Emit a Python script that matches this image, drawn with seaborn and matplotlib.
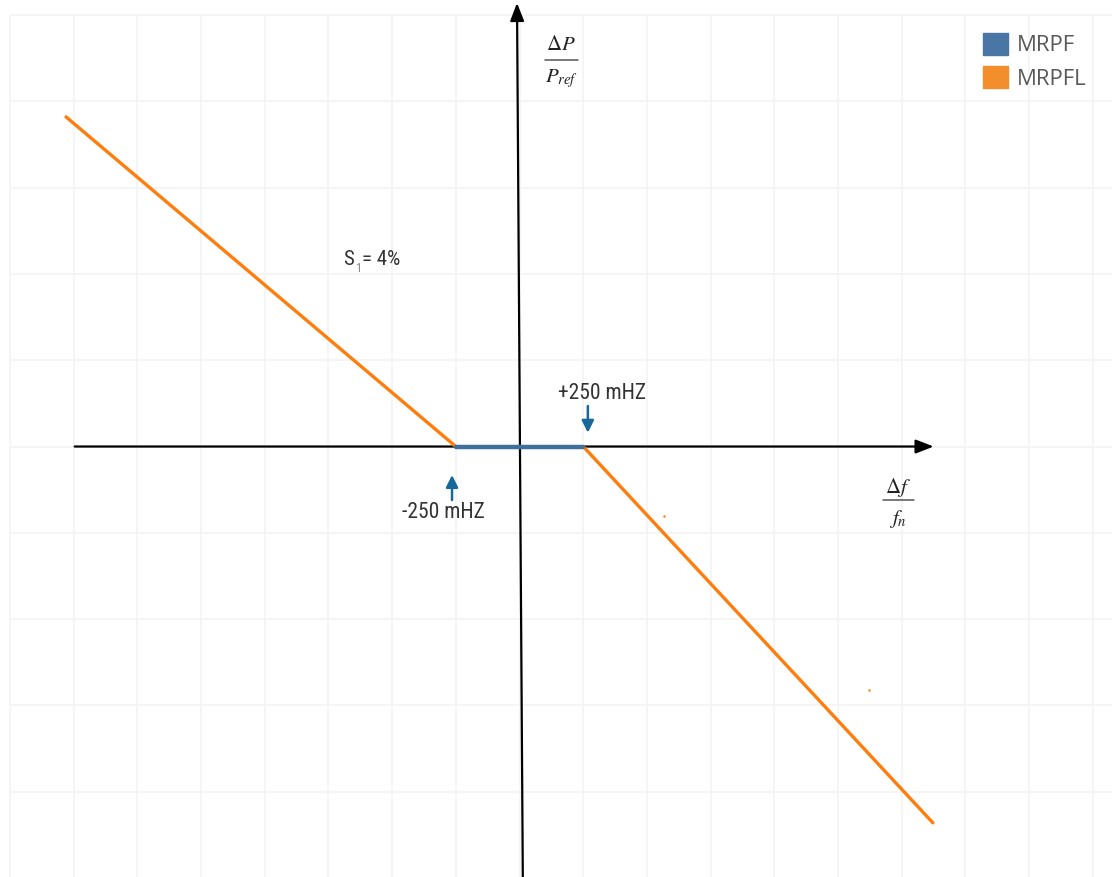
import numpy as np
import pandas as pd
import matplotlib
matplotlib.use("Agg")
import matplotlib.pyplot as plt
from matplotlib.patches import Patch
import seaborn as sns

# frequency deviation in mHz, power in grid units
mrpf_x = [-250, 250]
mrpf_y = [0, 0]
mrpfl_left_x = [-1780, -250]
mrpfl_left_y = [3.82, 0]
mrpfl_right_x = [250, 1622]
mrpfl_right_y = [0, -4.36]
stray_x = [565, 1370]
stray_y = [-0.80, -2.82]
legend_labels = ["MRPF", "MRPFL"]
deadband_labels = ["-250 mHZ", "+250 mHZ"]

blue = "#3f6f9c"
orange = "#ff7d0d"
arrow_blue = "#17699b"
leg_colors = ["#4a76a6", "#f28e2b"]
cond = ["Roboto Condensed", "Roboto", "DejaVu Sans"]

sns.set_theme(style="white")
plt.rcParams["font.family"] = cond
plt.rcParams["mathtext.fontset"] = "stix"

fig = plt.figure(figsize=(11.12, 8.77), dpi=100)
ax = fig.add_axes([0, 0, 1, 1])
ax.set_xlim(-2039, 2325)
ax.set_ylim(-4.988, 5.174)
ax.axis("off")

# grid
gx = np.arange(-2000, 2326, 250)
gy = np.arange(-5, 6, 1)
ax.vlines(gx, -5.1, 5, color="#f4f4f4", lw=1.3, zorder=0)
ax.hlines(gy, -2000, 2400, color="#f4f4f4", lw=1.3, zorder=0)

# axes with arrows
ax.annotate("", xy=(1625, 0), xytext=(-1746, 0),
            arrowprops=dict(arrowstyle="-|>,head_length=0.9,head_width=0.35",
                            color="black", lw=1.6, shrinkA=0, shrinkB=0))
ax.annotate("", xy=(-10, 5.14), xytext=(13, -5.1),
            arrowprops=dict(arrowstyle="-|>,head_length=0.9,head_width=0.35",
                            color="black", lw=1.6, shrinkA=0, shrinkB=0))

# curves
sns.lineplot(x=mrpfl_left_x, y=mrpfl_left_y, ax=ax, color=orange, lw=2.4, sort=False, zorder=3)
sns.lineplot(x=mrpfl_right_x, y=mrpfl_right_y, ax=ax, color=orange, lw=2.4, sort=False, zorder=3)
sns.lineplot(x=mrpf_x, y=mrpf_y, ax=ax, color=blue, lw=3.2, sort=False, zorder=4)
ax.scatter(stray_x, stray_y, s=3, color=orange, lw=0, zorder=3)

# deadband markers
ax.annotate("", xy=(-265, -0.33), xytext=(-265, -0.62),
            arrowprops=dict(arrowstyle="-|>,head_length=0.6,head_width=0.3",
                            color=arrow_blue, lw=1.8, shrinkA=0, shrinkB=0))
ax.annotate("", xy=(268, 0.16), xytext=(268, 0.47),
            arrowprops=dict(arrowstyle="-|>,head_length=0.6,head_width=0.3",
                            color=arrow_blue, lw=1.8, shrinkA=0, shrinkB=0))
ax.text(-300, -0.77, deadband_labels[0], ha="center", va="center", fontsize=15.5, color="#333333")
ax.text(323, 0.61, deadband_labels[1], ha="center", va="center", fontsize=15.5, color="#333333")

# droop label
ax.text(-692, 2.17, "S", ha="left", va="center", fontsize=15, color="#333333")
ax.text(-641, 2.06, "1", ha="left", va="center", fontsize=9, color="#888888")
ax.text(-617, 2.17, "= 4%", ha="left", va="center", fontsize=15, color="#333333")

# axis labels as fractions
ax.text(163, 4.66, r"$\Delta P$", ha="center", va="center", fontsize=15, color="#222222")
ax.plot([100, 228], [4.48, 4.48], color="#555555", lw=1.1)
ax.text(163, 4.26, r"$P_{ref}$", ha="center", va="center", fontsize=15, color="#222222")
ax.text(1485, -0.47, r"$\Delta f$", ha="center", va="center", fontsize=15, color="#222222")
ax.plot([1425, 1548], [-0.62, -0.62], color="#555555", lw=1.1)
ax.text(1485, -0.84, r"$f_n$", ha="center", va="center", fontsize=15, color="#222222")

handles = [Patch(facecolor=c, edgecolor=c) for c in leg_colors]
leg = ax.legend(handles, legend_labels, loc="upper left",
                bbox_to_anchor=(983 / 1112, 1 - 33 / 877), bbox_transform=fig.transFigure,
                frameon=False, borderpad=0, borderaxespad=0, handlelength=1.12, handleheight=1.12,
                handletextpad=0.4, labelspacing=0.45, prop={"family": "Open Sans", "size": 16})
for t in leg.get_texts():
    t.set_color("#595959")

fig.savefig("out.png", dpi=100)
